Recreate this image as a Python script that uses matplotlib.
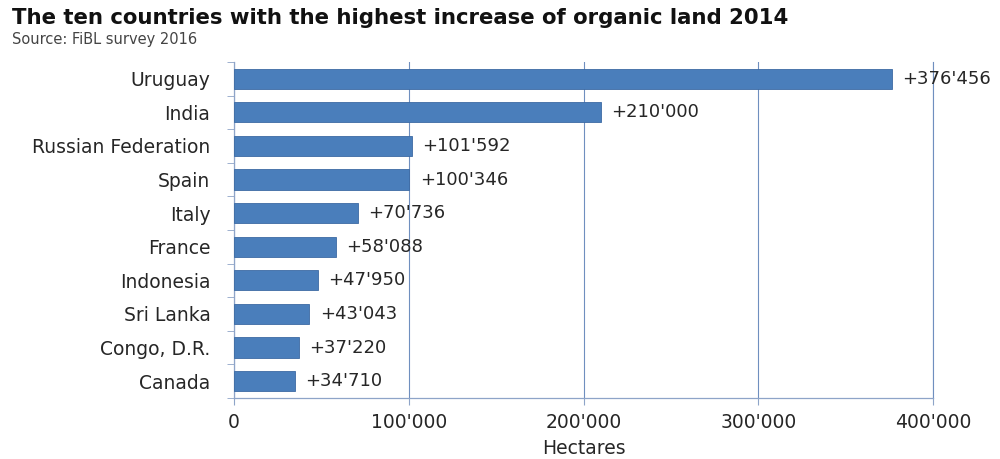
import matplotlib
matplotlib.use('Agg')
import matplotlib.pyplot as plt
from matplotlib.ticker import FuncFormatter

countries = ['Uruguay', 'India', 'Russian Federation', 'Spain', 'Italy', 'France',
             'Indonesia', 'Sri Lanka', 'Congo, D.R.', 'Canada']
increase = [376456, 210000, 101592, 100346, 70736, 58088, 47950, 43043, 37220, 34710]
x_ticks = [0, 100000, 200000, 300000, 400000]


def swiss(v):
    return "{:,}".format(int(v)).replace(',', "'")


plt.rcParams['font.family'] = ['DejaVu Sans']

fig = plt.figure(figsize=(10, 4.59), dpi=100)
ax = fig.add_axes([0.234, 0.133, 0.699, 0.732])

bar_color = '#4a7ebb'
axis_color = '#8ea4c8'
text_color = '#262626'
n = len(countries)
ypos = list(range(n))[::-1]
ax.barh(ypos, increase, height=0.6, color=bar_color, edgecolor='#3c6aa3', linewidth=0.6, zorder=3)

for y, v in zip(ypos, increase):
    ax.text(v + 6000, y, '+' + swiss(v), va='center', ha='left', fontsize=13,
            color=text_color, zorder=4)

ax.set_xlim(0, 400000)
ax.set_ylim(-0.5, n - 0.5)
ax.set_xticks(x_ticks)
ax.xaxis.set_major_formatter(FuncFormatter(lambda v, p: swiss(v)))
ax.set_yticks(ypos)
ax.set_yticklabels(countries)
ax.tick_params(axis='y', length=0, labelsize=13.5, pad=17, labelcolor=text_color)
ax.set_yticks([i - 0.5 for i in range(n + 1)], minor=True)
ax.tick_params(axis='y', which='minor', length=5, color=axis_color, direction='out')
ax.tick_params(axis='x', length=5, color=axis_color, labelsize=13.5, pad=6, labelcolor=text_color)

ax.grid(axis='x', color='#6f8fbf', linewidth=0.8, zorder=0)
ax.axvline(400000, color='#6f8fbf', linewidth=0.8, zorder=0, clip_on=False)
for s in ['top', 'right']:
    ax.spines[s].set_visible(False)
for s in ['left', 'bottom']:
    ax.spines[s].set_color(axis_color)
    ax.spines[s].set_linewidth(0.9)

ax.set_xlabel('Hectares', fontsize=13.5, color=text_color, labelpad=5)

fig.text(0.012, 0.961, 'The ten countries with the highest increase of organic land 2014',
         fontsize=15.3, fontweight='bold', color='#111111', va='center')
fig.text(0.012, 0.913, 'Source: FiBL survey 2016', fontsize=10.5, color='#444444', va='center')

fig.savefig('out.png', dpi=100)
